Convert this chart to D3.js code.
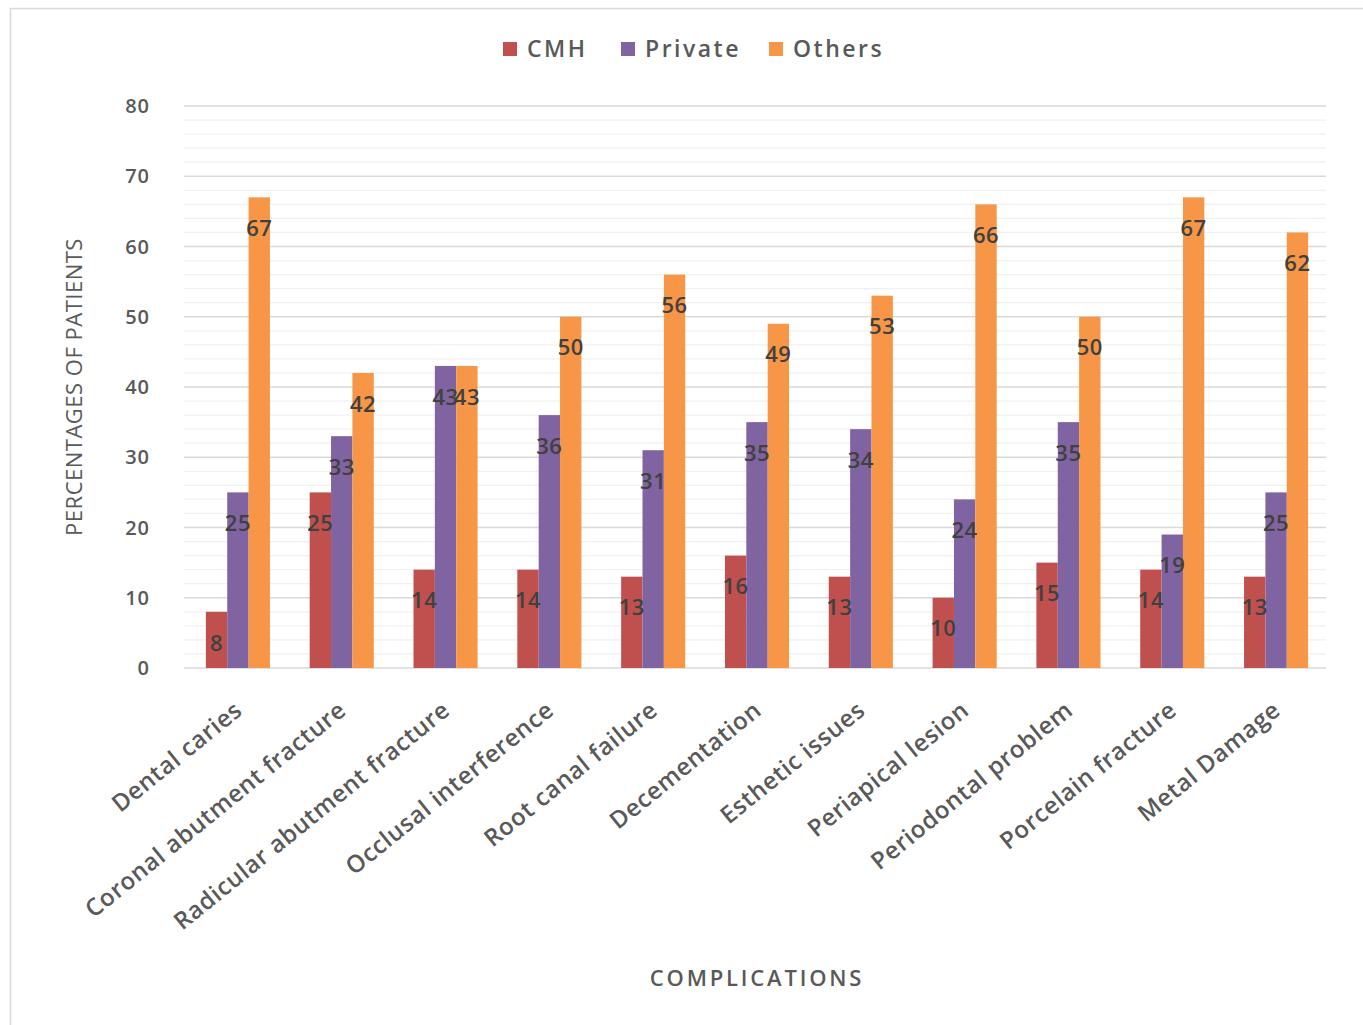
<!DOCTYPE html>
<html lang="en">

<head>
    <meta charset="UTF-8">
    <title>Complications</title>
    <script src="https://d3js.org/d3.v7.min.js"></script>
    <style>
        body { margin: 0; background: #fff; }
        text { font-family: "Open Sans", "Noto Sans", sans-serif; }
    </style>
</head>

<body>
    <svg width="1363" height="1025"></svg>

    <script>
        // data
        const categories = ['Dental caries', 'Coronal abutment fracture', 'Radicular abutment fracture',
            'Occlusal interference', 'Root canal failure', 'Decementation', 'Esthetic issues',
            'Periapical lesion', 'Periodontal problem', 'Porcelain fracture', 'Metal Damage'];
        const seriesNames = ['CMH', 'Private', 'Others'];
        const cmh = [8, 25, 14, 14, 13, 16, 13, 10, 15, 14, 13];
        const privateVals = [25, 33, 43, 36, 31, 35, 34, 24, 35, 19, 25];
        const others = [67, 42, 43, 50, 56, 49, 53, 66, 50, 67, 62];
        const yTicks = [0, 10, 20, 30, 40, 50, 60, 70, 80];

        const colors = ['#C0504D', '#8064A2', '#F79646'];
        const values = [cmh, privateVals, others];

        const width = 1363, height = 1025;
        const margin = { left: 184, right: 37, top: 106, bottom: 357 };

        const svg = d3.select('svg');

        // chart border
        svg.append('rect')
            .attr('x', 10.5).attr('y', 8.5)
            .attr('width', width).attr('height', height)
            .attr('fill', 'none')
            .attr('stroke', '#d9d9d9')
            .attr('stroke-width', 1.5);

        const x0 = d3.scaleBand()
            .domain(categories)
            .range([margin.left, width - margin.right]);

        const x1 = d3.scaleBand()
            .domain(seriesNames)
            .range([2, x0.bandwidth() + 2])
            .paddingOuter(0.93);

        const y = d3.scaleLinear()
            .domain([0, 80])
            .range([height - margin.bottom, margin.top]);

        // minor gridlines
        svg.append('g')
            .selectAll('line')
            .data(d3.range(0, 81, 2).filter(v => v % 10 !== 0))
            .join('line')
            .attr('x1', margin.left).attr('x2', width - margin.right)
            .attr('y1', d => y(d)).attr('y2', d => y(d))
            .attr('stroke', '#f0f0f0')
            .attr('stroke-width', 1.2);

        // major gridlines
        svg.append('g')
            .selectAll('line')
            .data(yTicks)
            .join('line')
            .attr('x1', margin.left).attr('x2', width - margin.right)
            .attr('y1', d => y(d)).attr('y2', d => y(d))
            .attr('stroke', '#d9d9d9')
            .attr('stroke-width', 1.3);

        // y axis labels
        svg.append('g')
            .selectAll('text')
            .data(yTicks)
            .join('text')
            .attr('x', 150)
            .attr('y', d => y(d))
            .attr('dy', '0.35em')
            .attr('text-anchor', 'end')
            .attr('fill', '#595959')
            .style('font-size', '20px')
            .style('font-weight', 600)
            .style('letter-spacing', '1px')
            .text(d => d);

        // bars
        const groups = svg.append('g')
            .selectAll('g')
            .data(categories)
            .join('g')
            .attr('transform', d => `translate(${x0(d)},0)`);

        const barData = (d, i) => seriesNames.map((s, k) => ({ series: s, k: k, value: values[k][i] }));

        groups.selectAll('rect')
            .data(barData)
            .join('rect')
            .attr('x', d => x1(d.series))
            .attr('width', x1.bandwidth())
            .attr('y', d => y(d.value))
            .attr('height', d => y(0) - y(d.value))
            .attr('fill', d => colors[d.k]);

        // value labels (the two 43s overlap in the original too)
        groups.selectAll('text')
            .data(barData)
            .join('text')
            .attr('x', d => x1(d.series) + x1.bandwidth() / 2)
            .attr('y', d => y(d.value) + 31)
            .attr('dy', '0.35em')
            .attr('text-anchor', 'middle')
            .attr('fill', '#404040')
            .style('font-size', '22px')
            .style('font-weight', 600)
            .style('letter-spacing', '0.5px')
            .text(d => d.value);

        // x axis category labels
        svg.append('g')
            .selectAll('text')
            .data(categories)
            .join('text')
            .attr('text-anchor', 'end')
            .attr('transform', d => `translate(${x0(d) + x0.bandwidth() / 2 + 8},${y(0) + 45}) rotate(-39)`)
            .attr('fill', '#595959')
            .style('font-size', '24px')
            .style('font-weight', 600)
            .style('letter-spacing', '0.6px')
            .text(d => d);

        // axis titles
        svg.append('text')
            .attr('transform', `translate(82,${(y(0) + y(80)) / 2}) rotate(-90)`)
            .attr('text-anchor', 'middle')
            .attr('fill', '#595959')
            .style('font-size', '22px')
            .style('letter-spacing', '0.5px')
            .text('PERCENTAGES OF PATIENTS');

        svg.append('text')
            .attr('x', 757)
            .attr('y', 986)
            .attr('text-anchor', 'middle')
            .attr('fill', '#595959')
            .style('font-size', '22px')
            .style('font-weight', 600)
            .style('letter-spacing', '2.8px')
            .text('COMPLICATIONS');

        // legend
        const legendX = [503, 621, 769];
        const legend = svg.append('g')
            .selectAll('g')
            .data(seriesNames)
            .join('g')
            .attr('transform', (d, i) => `translate(${legendX[i]},49)`);

        legend.append('rect')
            .attr('x', 0).attr('y', -7)
            .attr('width', 14).attr('height', 14)
            .attr('fill', (d, i) => colors[i]);

        legend.append('text')
            .attr('x', 24)
            .attr('dy', '0.35em')
            .attr('fill', '#595959')
            .style('font-size', '23px')
            .style('font-weight', 600)
            .style('letter-spacing', '2.5px')
            .text(d => d);
    </script>
</body>

</html>
